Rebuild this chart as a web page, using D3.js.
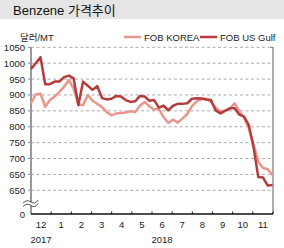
<!DOCTYPE html>
<html>
<head>
<meta charset="utf-8">
<script src="https://cdn.jsdelivr.net/npm/d3@7"></script>
<style>
  body { margin: 0; background: #fff; }
  svg { display: block; font-family: "Liberation Sans", "Noto Sans CJK KR", sans-serif; }
</style>
</head>
<body>
<svg id="chart" width="284" height="248"></svg>
<script>
const title = "Benzene 가격추이";
const unit = "달러/MT";
const seriesNames = ["FOB KOREA", "FOB US Gulf"];
const months = ["12", "1", "2", "3", "4", "5", "6", "7", "8", "9", "10", "11"];
const years = [{label: "2017", month: 0}, {label: "2018", month: 6}];
const yTicks = [1050, 1000, 950, 900, 850, 800, 750, 700, 650, 600];
const yTickLabels = ["1050", "1000", "950", "900", "850", "800", "750", "700", "650", "650"];

// weekly prices, dec 2017 - nov 2018
const fobKorea = [874, 902, 904, 863, 884, 895, 910, 926, 947, 920,
  870, 868, 900, 882, 872, 862, 846, 836, 842, 843,
  845, 849, 846, 866, 878, 864, 854, 856, 830, 812,
  823, 813, 826, 840, 865, 880, 887, 888, 878, 860,
  847, 851, 857, 874, 848, 828, 795, 745, 690, 670,
  666, 648];
const fobUsGulf = [982, 1000, 1019, 934, 934, 942, 942, 956, 961, 952,
  868, 942, 929, 916, 928, 890, 886, 888, 897, 895,
  884, 878, 880, 897, 895, 882, 884, 860, 866, 852,
  866, 872, 872, 874, 888, 890, 889, 886, 884, 851,
  842, 850, 858, 858, 838, 832, 805, 735, 642, 640,
  615, 617];

const colors = ["#e9968c", "#b43c3d"];

const svg = d3.select("#chart");
const plotLeft = 31, plotRight = 273, plotTop = 47.3, zeroY = 214;

// title band
svg.append("rect").attr("x", 0).attr("y", 0).attr("width", 284).attr("height", 19).attr("fill", "#e5e5e5");
svg.append("text").attr("x", 13).attr("y", 15).attr("font-size", 13).attr("fill", "#111").text(title);

const x = d3.scaleLinear().domain([0, fobKorea.length - 1]).range([plotLeft, plotRight - 0.5]);
const xm = d3.scaleBand().domain(months).range([plotLeft, plotRight]);
const y = d3.scaleLinear().domain([600, 1050]).range([190.3, plotTop]);

// grid
svg.append("g").selectAll("line").data(yTicks).enter().append("line")
  .attr("x1", plotLeft).attr("x2", plotRight)
  .attr("y1", d => y(d)).attr("y2", d => y(d))
  .attr("stroke", "#aaa").attr("stroke-width", 1).attr("stroke-dasharray", "3,2.5");

// y labels
svg.append("g").selectAll("text").data(yTicks).enter().append("text")
  .attr("x", 25).attr("y", d => y(d) + 3.5)
  .attr("text-anchor", "end").attr("font-size", 9.5).attr("fill", "#222")
  .text((d, i) => yTickLabels[i]);
svg.append("g").selectAll("line").data(yTicks).enter().append("line")
  .attr("x1", plotLeft - 3).attr("x2", plotLeft).attr("y1", d => y(d)).attr("y2", d => y(d))
  .attr("stroke", "#888");
svg.append("text").attr("x", 25).attr("y", zeroY + 3.5).attr("text-anchor", "end")
  .attr("font-size", 9.5).attr("fill", "#222").text("0");

// right frame
svg.append("line").attr("x1", plotRight).attr("x2", plotRight).attr("y1", plotTop).attr("y2", zeroY)
  .attr("stroke", "#777").attr("stroke-width", 1.2);
svg.append("line").attr("x1", plotRight - 3).attr("x2", plotRight).attr("y1", plotTop).attr("y2", plotTop)
  .attr("stroke", "#777");

// left axis
svg.append("line").attr("x1", plotLeft).attr("x2", plotLeft).attr("y1", plotTop).attr("y2", zeroY)
  .attr("stroke", "#999").attr("stroke-width", 2);

// axis break (two waves across the axis)
const brk = svg.append("g").attr("transform", `translate(${plotLeft},204)`);
brk.append("rect").attr("x", -2).attr("y", -2).attr("width", 4).attr("height", 3.5).attr("fill", "#fff");
[-2, 1.5].forEach(dy => {
  brk.append("path")
    .attr("d", `M-8,${dy + 1} q4,-4 8,-1 t7,-2`)
    .attr("fill", "none").attr("stroke", "#444").attr("stroke-width", 0.9);
});

// x axis
svg.append("line").attr("x1", plotLeft).attr("x2", plotRight).attr("y1", zeroY).attr("y2", zeroY)
  .attr("stroke", "#111").attr("stroke-width", 1.5);
svg.append("g").selectAll("line").data(months).enter().append("line")
  .attr("x1", d => xm(d) + xm.bandwidth()).attr("x2", d => xm(d) + xm.bandwidth())
  .attr("y1", zeroY - 2.5).attr("y2", zeroY).attr("stroke", "#111");
svg.append("g").selectAll("text").data(months).enter().append("text")
  .attr("x", d => xm(d) + xm.bandwidth() / 2).attr("y", 227.5)
  .attr("text-anchor", "middle").attr("font-size", 9.5).attr("fill", "#222").text(d => d);
svg.append("g").selectAll("text").data(years).enter().append("text")
  .attr("x", d => xm(months[d.month]) + xm.bandwidth() / 2).attr("y", 242.5)
  .attr("text-anchor", "middle").attr("font-size", 9.5).attr("fill", "#222").text(d => d.label);

// lines
const line = d3.line().x((d, i) => x(i)).y(d => y(d));
[fobKorea, fobUsGulf].forEach((s, k) => {
  svg.append("path").datum(s).attr("d", line)
    .attr("fill", "none").attr("stroke", colors[k]).attr("stroke-width", 2.5)
    .attr("stroke-linejoin", "round");
});

// unit and legend
svg.append("text").attr("x", 20).attr("y", 40.5).attr("font-size", 9.5).attr("fill", "#222").text(unit);
const legendX = [124, 200];
const lg = svg.append("g").selectAll("g").data(seriesNames).enter().append("g")
  .attr("transform", (d, i) => `translate(${legendX[i]},37)`);
lg.append("line").attr("x1", 0).attr("x2", 17).attr("stroke", (d, i) => colors[i]).attr("stroke-width", 2.5);
lg.append("text").attr("x", 20).attr("y", 3.5).attr("font-size", 9.5).attr("fill", "#222").text(d => d);
</script>
</body>
</html>
